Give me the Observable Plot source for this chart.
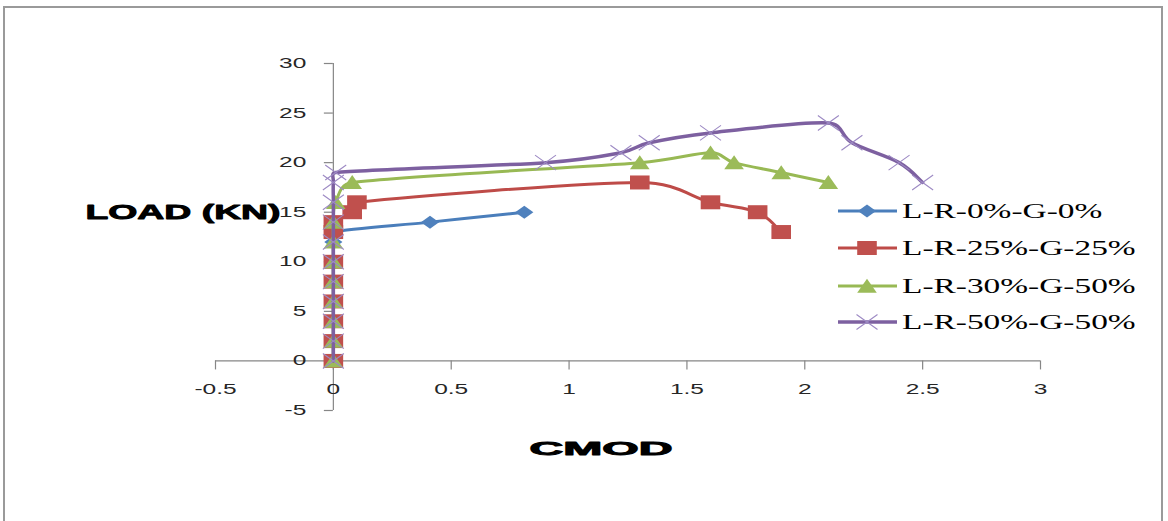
<!DOCTYPE html>
<html><head><meta charset="utf-8">
<script src="https://cdn.jsdelivr.net/npm/d3@7"></script>
<script src="https://cdn.jsdelivr.net/npm/@observablehq/plot@0.6"></script>
<style>
html,body{margin:0;padding:0;background:#fff;}
#wrap{position:relative;width:1168px;height:521px;overflow:hidden;}
#frame{position:absolute;left:3px;top:6px;width:1160px;height:600px;border:2px solid #9a9a9a;box-sizing:border-box;}
#chart{position:absolute;left:0;top:0;}
#legend{position:absolute;left:0;top:0;}
</style></head><body>
<div id="wrap"><div id="frame"></div><div id="chart"></div><svg id="legend" width="1168" height="521"></svg></div>
<script>
// ---- data ----
const seriesNames = ["L-R-0%-G-0%", "L-R-25%-G-25%", "L-R-30%-G-50%", "L-R-50%-G-50%"];
const lineColors = ["#4a7ebb", "#be4b48", "#98b954", "#7d60a0"];
const markerColors = ["#4f81bd", "#c0504d", "#9bbb59", "#9d8ac4"];

const cmod0 = [0, 0, 0, 0, 0, 0, 0, 0, 0.41, 0.81];
const load0 = [0, 2, 4, 6, 8, 10, 12, 13, 14, 15];

const cmod1 = [0, 0, 0, 0, 0, 0, 0, 0, 0.08, 0.1, 1.3, 1.6, 1.8, 1.9];
const load1 = [0, 2, 4, 6, 8, 10, 13, 14, 15, 16, 18, 16, 15, 13];

const cmod2 = [0, 0, 0, 0, 0, 0, 0, 0, 0.01, 0.08, 1.3, 1.6, 1.7, 1.9, 2.1];
const load2 = [0, 2, 4, 6, 8, 10, 12, 14, 16, 18, 20, 21, 20, 19, 18];

const cmod3 = [0, 0, 0, 0, 0, 0, 0, 0, 0, 0, 0.01, 0.9, 1.22, 1.34, 1.6, 2.1, 2.2, 2.4, 2.5];
const load3 = [0, 2, 4, 6, 8, 10, 12, 14, 16, 18, 19, 20, 21, 22, 23, 24, 22, 20, 18];

const xTicks = [-0.5, 0, 0.5, 1, 1.5, 2, 2.5, 3];
const xTickLabels = ["-0.5", "0", "0.5", "1", "1.5", "2", "2.5", "3"];
const yTicks = [-5, 0, 5, 10, 15, 20, 25, 30];
const yTickLabels = ["-5", "0", "5", "10", "15", "20", "25", "30"];
const xTitle = "CMOD";
const yTitle = "LOAD (KN)";

// ---- spreadsheet-style smoothed line (Bezier, handles capped at half segment) ----
function SmoothCurve(context) { this._context = context; }
SmoothCurve.prototype = {
  areaStart() {}, areaEnd() {},
  lineStart() { this._pts = []; },
  point(x, y) { this._pts.push([+x, +y]); },
  lineEnd() {
    const p = this._pts, c = this._context, n = p.length;
    if (!n) return;
    const dist = (a, b) => Math.hypot(a[0] - b[0], a[1] - b[1]);
    c.moveTo(p[0][0], p[0][1]);
    for (let i = 0; i < n - 1; i++) {
      const P0 = p[Math.max(i - 1, 0)], P1 = p[i], P2 = p[i + 1], P3 = p[Math.min(i + 2, n - 1)];
      const d12 = dist(P1, P2), d02 = dist(P0, P2), d13 = dist(P1, P3);
      let f0 = 1 / 6, f3 = 1 / 6;
      if (d02 / 6 >= d12 / 2) f0 = d02 > 0 ? d12 / (2 * d02) : 0;
      if (d13 / 6 >= d12 / 2) f3 = d13 > 0 ? d12 / (2 * d13) : 0;
      c.bezierCurveTo(
        P1[0] + (P2[0] - P0[0]) * f0, P1[1] + (P2[1] - P0[1]) * f0,
        P2[0] - (P3[0] - P1[0]) * f3, P2[1] - (P3[1] - P1[1]) * f3,
        P2[0], P2[1]);
    }
  }
};
const curveSmooth = (context) => new SmoothCurve(context);

// ---- symbols (horizontally stretched, like the reference) ----
const STRETCH = 1.4;
function makeSymbol(kind) {
  return {
    draw(ctx, size) {
      const r = Math.sqrt(size / Math.PI), w = r * STRETCH, h = r;
      if (kind === "diamond") {
        ctx.moveTo(0, -h); ctx.lineTo(w, 0); ctx.lineTo(0, h); ctx.lineTo(-w, 0); ctx.closePath();
      } else if (kind === "square") {
        ctx.moveTo(-w, -h); ctx.lineTo(w, -h); ctx.lineTo(w, h); ctx.lineTo(-w, h); ctx.closePath();
      } else if (kind === "triangle") {
        ctx.moveTo(0, -h * 1.05); ctx.lineTo(w, h * 0.95); ctx.lineTo(-w, h * 0.95); ctx.closePath();
      } else {
        ctx.moveTo(-w, -h); ctx.lineTo(w, h); ctx.moveTo(w, -h); ctx.lineTo(-w, h);
      }
    }
  };
}
const symbols = [makeSymbol("diamond"), makeSymbol("square"), makeSymbol("triangle"), makeSymbol("x")];
const radii = [6.5, 7, 7, 7.5];

const xs = [cmod0, cmod1, cmod2, cmod3];
const ys = [load0, load1, load2, load3];
const tables = xs.map((arr, s) => arr.map((x, i) => ({x, y: ys[s][i], series: seriesNames[s]})));

const axisColor = "#868686";
const tickFont = "Liberation Sans, Arial, sans-serif";

const seriesMarks = tables.flatMap((t, s) => [
  Plot.line(t, {x: "x", y: "y", stroke: lineColors[s], strokeWidth: s === 3 ? 3.5 : 3, curve: curveSmooth}),
  s === 3
    ? Plot.dot(t, {x: "x", y: "y", symbol: symbols[s], r: radii[s], stroke: markerColors[s], strokeWidth: 1.1, fill: "none"})
    : Plot.dot(t, {x: "x", y: "y", symbol: symbols[s], r: radii[s], fill: markerColors[s]})
]);

const chart = Plot.plot({
  width: 1168,
  height: 521,
  marginLeft: 215,
  marginRight: 128,
  marginTop: 63,
  marginBottom: 111,
  style: {background: "transparent", overflow: "visible"},
  x: {domain: [-0.5, 3], axis: null},
  y: {domain: [-5, 30], axis: null},
  marks: [
    Plot.ruleY([0], {x1: -0.5, x2: 3, stroke: axisColor, strokeWidth: 1.2}),
    Plot.ruleX([0], {y1: -5, y2: 30, stroke: axisColor, strokeWidth: 1.2}),
    Plot.ruleX(xTicks, {x: d => d, y1: 0, y2: 0, insetBottom: -9, stroke: axisColor, strokeWidth: 1.2}),
    Plot.ruleY(yTicks, {y: d => d, x1: 0, x2: 0, insetLeft: -9, stroke: axisColor, strokeWidth: 1.2}),
    Plot.text(xTicks, {x: d => d, y: 0, text: (d, i) => xTickLabels[i], dy: 29, fontSize: 14, fontFamily: tickFont, fill: "#262626"}),
    Plot.text(yTicks, {x: 0, y: d => d, text: (d, i) => yTickLabels[i], dx: -27, textAnchor: "end", fontSize: 14, fontFamily: tickFont, fill: "#262626"}),
    Plot.text([yTitle], {frameAnchor: "left", dx: -130, dy: -25, textAnchor: "start", fontSize: 21, fontWeight: "bold", fontFamily: tickFont, fill: "#000", stroke: "#000", strokeWidth: 0.9}),
    Plot.text([xTitle], {frameAnchor: "bottom", dx: -27, dy: 44, textAnchor: "middle", fontSize: 18, fontWeight: "bold", fontFamily: tickFont, fill: "#000", stroke: "#000", strokeWidth: 0.9}),
    ...seriesMarks
  ]
});
document.getElementById("chart").appendChild(chart);

// horizontal stretch of text, as in the reference picture (text groups in mark order)
const stretchFactors = [1.75, 1.75, 1.78, 2.6];
const textGroups = chart.querySelectorAll('g[aria-label="text"]');
textGroups.forEach((g, gi) => {
  const k = stretchFactors[gi] || 1;
  g.querySelectorAll("text").forEach(el => {
    const t = el.getAttribute("transform");
    if (t) {
      el.setAttribute("transform", `${t} scale(${k},1)`);
    } else {
      const x = +el.getAttribute("x") || 0, y = +el.getAttribute("y") || 0;
      el.removeAttribute("x"); el.removeAttribute("y");
      el.setAttribute("transform", `translate(${x},${y}) scale(${k},1)`);
    }
  });
});

// ---- legend ----
const leg = d3.select("#legend");
const rowsY = [211, 248, 286, 322];
seriesNames.forEach((name, s) => {
  const g = leg.append("g").attr("transform", `translate(0,${rowsY[s]})`);
  g.append("line").attr("x1", 838).attr("x2", 897).attr("y1", 0).attr("y2", 0)
    .attr("stroke", lineColors[s]).attr("stroke-width", s === 3 ? 3.5 : 3);
  const p = d3.symbol().type(symbols[s]).size(Math.PI * radii[s] * radii[s])();
  const m = g.append("path").attr("d", p).attr("transform", "translate(867,0)");
  if (s === 3) m.attr("fill", "none").attr("stroke", markerColors[s]).attr("stroke-width", 1.1);
  else m.attr("fill", markerColors[s]);
  g.append("text").attr("transform", "translate(902,7) scale(1.67,1)")
    .attr("font-family", "Liberation Serif, Times New Roman, serif").attr("font-size", 20)
    .attr("fill", "#000").text(name);
});
</script>
</body></html>
